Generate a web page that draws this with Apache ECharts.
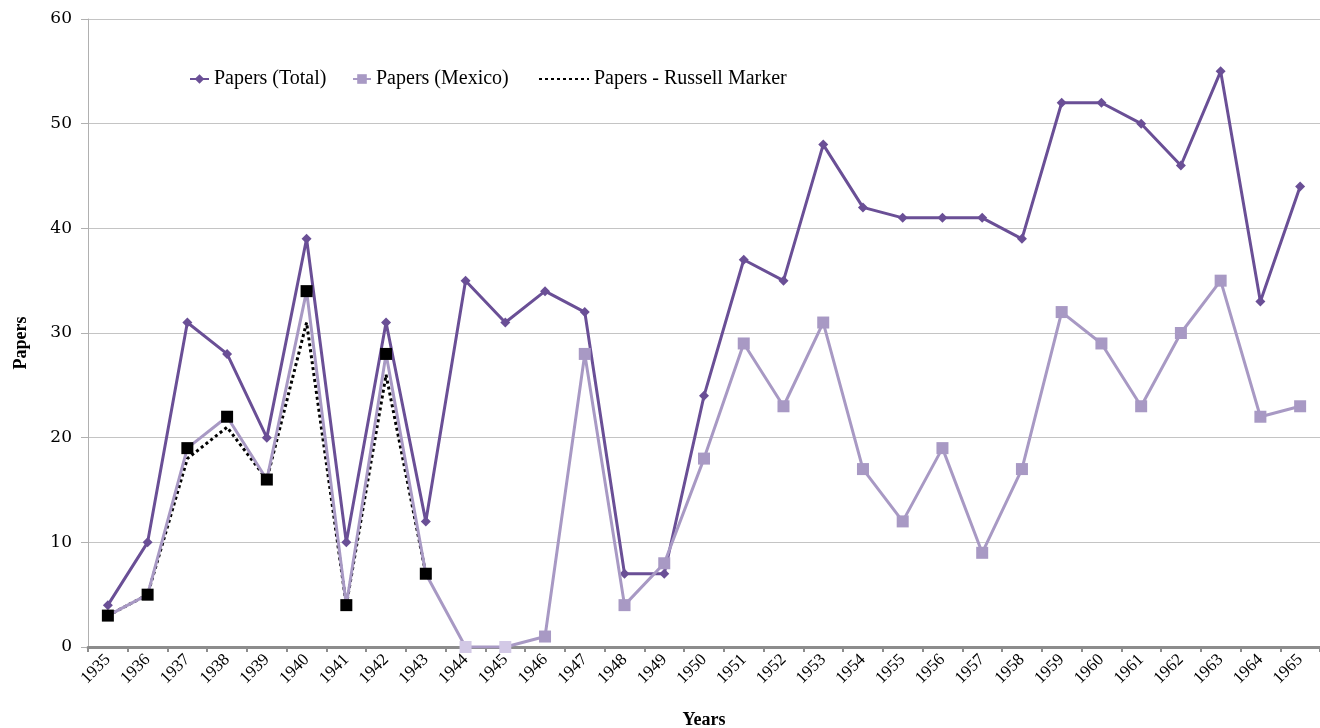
<!DOCTYPE html>
<html>
<head>
<meta charset="utf-8">
<script src="https://cdn.jsdelivr.net/npm/echarts@6/dist/echarts.min.js"></script>
<style>html,body{margin:0;padding:0;background:#fff;}#c{width:1320px;height:728px;}</style>
</head>
<body>
<div id="c"></div>
<script>
var years = ['1935','1936','1937','1938','1939','1940','1941','1942','1943','1944','1945','1946','1947','1948','1949','1950','1951','1952','1953','1954','1955','1956','1957','1958','1959','1960','1961','1962','1963','1964','1965'];
var papersTotal = [4,10,31,28,20,39,10,31,12,35,31,34,32,7,7,24,37,35,48,42,41,41,41,39,52,52,50,46,55,33,44];
var papersMexico = [3,5,19,22,16,34,4,28,7,0,0,1,28,4,8,18,29,23,31,17,12,19,9,17,32,29,23,30,35,22,23];
var papersRussell = [3,5,18,21,16,31,4,26,7];
var yTicks = [0,10,20,30,40,50,60];

var cTotal = '#6a4f96', cMex = '#a899c4', cMexLight = '#d3c9e6';
var mexData = papersMexico.map(function(v, i){
  var col = i < papersRussell.length ? '#000000' : (v === 0 ? cMexLight : cMex);
  return {value: v, itemStyle: {color: col}};
});

var legendText = {fontFamily: 'Liberation Serif', fontSize: 20, color: '#000'};
function mkLegend(name, left, w, extra) {
  var item = {name: name};
  if (extra) item.itemStyle = extra;
  return {top: 64, left: left, itemWidth: w, itemHeight: 12, textStyle: legendText, data: [item]};
}

var chart = echarts.init(document.getElementById('c'));
chart.setOption({
  animation: false,
  backgroundColor: '#fff',
  grid: {left: 88, right: 0, top: 19, bottom: 81, containLabel: false, outerBoundsMode: 'none'},
  legend: [
    mkLegend('Papers (Total)', 184, 19),
    mkLegend('Papers (Mexico)', 347, 18),
    mkLegend('Papers - Russell Marker', 533, 50, {color: 'rgba(0,0,0,0)', borderWidth: 0})
  ],
  xAxis: {
    type: 'category', data: years, boundaryGap: true,
    name: 'Years', nameLocation: 'middle', nameGap: 64,
    nameTextStyle: {fontFamily: 'Liberation Serif', fontSize: 18, fontWeight: 'bold', color: '#000'},
    axisLine: {lineStyle: {color: '#8c8c8c', width: 3}},
    axisTick: {show: true, interval: 0, length: 5, lineStyle: {color: '#8c8c8c', width: 2}},
    axisLabel: {interval: 0, rotate: 45, margin: 10, fontFamily: 'Liberation Serif', fontSize: 17, color: '#000'}
  },
  yAxis: {
    type: 'value', min: yTicks[0], max: yTicks[yTicks.length-1], interval: 10,
    name: 'Papers', nameLocation: 'middle', nameGap: 58, nameRotate: 90,
    nameTextStyle: {fontFamily: 'Liberation Serif', fontSize: 18, fontWeight: 'bold', color: '#000', padding: [0, 20, 0, 0]},
    axisLine: {show: true, lineStyle: {color: '#b0b0b0', width: 1}},
    axisTick: {show: true, length: 7, lineStyle: {color: '#b0b0b0'}},
    axisLabel: {margin: 16, fontFamily: 'DejaVu Serif', fontSize: 17, color: '#000'},
    splitLine: {lineStyle: {color: '#c4c4c4', width: 1}}
  },
  series: [
    {
      name: 'Papers (Total)', type: 'line', data: papersTotal, z: 3,
      symbol: 'diamond', symbolSize: 10, showAllSymbol: true,
      lineStyle: {color: cTotal, width: 3}, itemStyle: {color: cTotal}
    },
    {
      name: 'Papers - Russell Marker', type: 'line', data: papersRussell, z: 2,
      symbol: 'none',
      lineStyle: {color: '#000', width: 3, type: [3, 3]}, itemStyle: {color: '#000'}
    },
    {
      name: 'Papers (Mexico)', type: 'line', data: mexData, z: 4,
      symbol: 'rect', symbolSize: 12, showAllSymbol: true,
      lineStyle: {color: cMex, width: 3}, itemStyle: {color: cMex}
    }
  ]
});
</script>
</body>
</html>
